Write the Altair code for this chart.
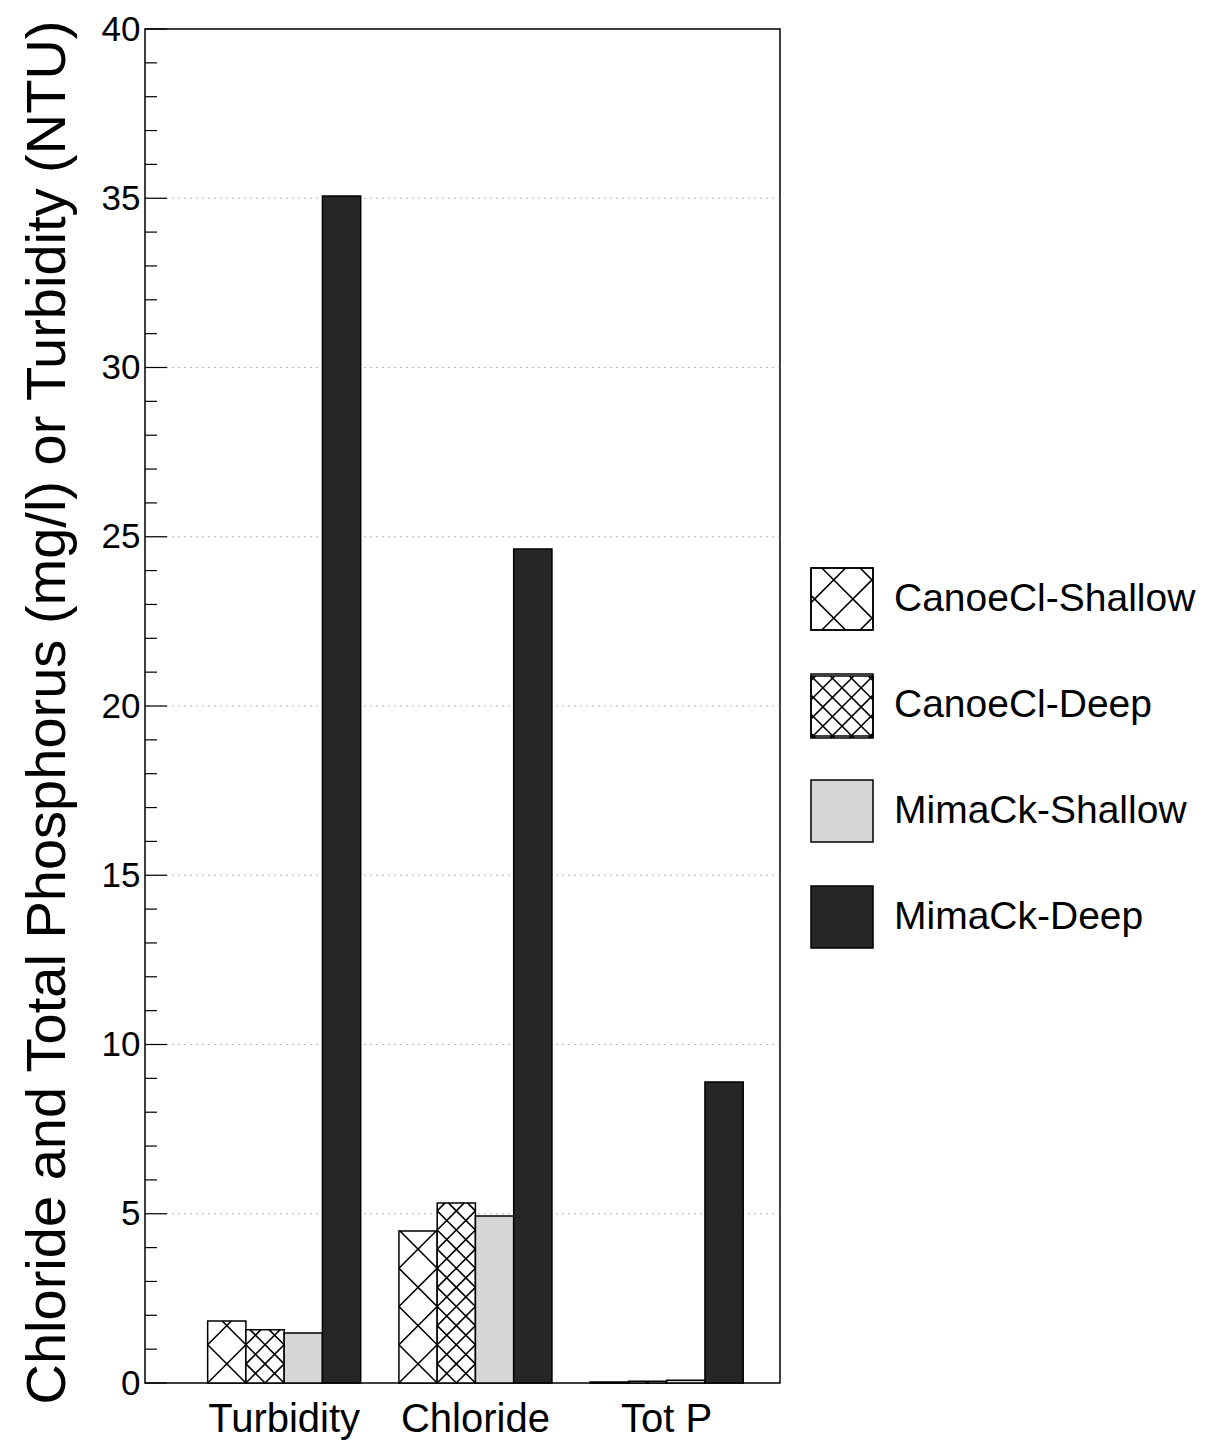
import altair as alt
import pandas as pd

params = ["Turbidity", "Chloride", "Tot P"]
series = ["CanoeCl-Shallow", "CanoeCl-Deep", "MimaCk-Shallow", "MimaCk-Deep"]
canoe_shallow = [1.83, 4.49, 0.03]
canoe_deep = [1.57, 5.32, 0.05]
mima_shallow = [1.48, 4.93, 0.08]
mima_deep = [35.07, 24.64, 8.89]
fills = ["#ffffff", "#ffffff", "#d6d6d6", "#262626"]
y_labels = [0, 5, 10, 15, 20, 25, 30, 35, 40]
grid_values = [5, 10, 15, 20, 25, 30, 35]
minor_ticks = [v for v in range(0, 41) if v % 5 != 0]
major_ticks = y_labels

FONT = "Liberation Sans"

# ---- layout (style) ----
W, H = 635, 1354
PAD_IN, PAD_OUT, ALIGN = 0.2, 0.26, 0.63
YMAX = 40
band_step = W / (len(params) - PAD_IN + 2 * PAD_OUT)
bar_w = band_step * (1 - PAD_IN) / len(series)
px_per_unit = H / YMAX

rows = []
for i, p in enumerate(params):
    for s, vals in zip(series, [canoe_shallow, canoe_deep, mima_shallow, mima_deep]):
        rows.append({"param": p, "series": s, "value": vals[i]})
df = pd.DataFrame(rows)


# ---- hatch pattern helpers (decoration only) ----
def lattice_path(spacing, offset=0.0):
    parts = ["M-1,-1H1V1H-1Z"]
    cs = []
    k = 0
    while True:
        vals = [offset + k * spacing, offset - k * spacing]
        added = False
        for c in vals:
            if -2 < c < 2 and round(c, 4) not in cs:
                cs.append(round(c, 4))
                added = True
        if not added and k > 0:
            break
        k += 1
    for c in cs:
        if c >= 0:
            parts.append(f"M{c-1:.3f},1L1,{c-1:.3f}")
            parts.append(f"M{c-1:.3f},-1L1,{1-c:.3f}")
        else:
            parts.append(f"M-1,{c+1:.3f}L{c+1:.3f},-1")
            parts.append(f"M-1,{-1-c:.3f}L{1+c:.3f},1")
    return "".join(parts)


def partial_shallow(f):
    return f"M-1,1L{-1+2*f:.3f},{1-2*f:.3f}M1,1L{1-2*f:.3f},{1-2*f:.3f}"


def partial_deep(f):
    a = 0.5 - f
    return (f"M-1,0.5L{-1+f:.3f},{a:.3f}M0,0.5L{-f:.3f},{a:.3f}"
            f"M0,0.5L{f:.3f},{a:.3f}M1,0.5L{1-f:.3f},{a:.3f}")


tile_full = {
    "CanoeCl-Shallow": "M-1,-1L1,1M-1,1L1,-1",
    "CanoeCl-Deep": "M-1,-0.5L0,0.5M-1,0.5L0,-0.5M0,-0.5L1,0.5M0,0.5L1,-0.5",
}
partial_fn = {"CanoeCl-Shallow": partial_shallow, "CanoeCl-Deep": partial_deep}
hatch_series = ["CanoeCl-Shallow", "CanoeCl-Deep"]
tile_h = {"CanoeCl-Shallow": bar_w / px_per_unit, "CanoeCl-Deep": bar_w / 2 / px_per_unit}

shape_domain = list(hatch_series)
shape_range = [tile_full[s] for s in hatch_series]
hrows = []
for r in rows:
    s = r["series"]
    if s in hatch_series:
        h = tile_h[s]
        n = int(r["value"] // h)
        for k in range(n):
            hrows.append({"param": r["param"], "series": s, "key": s, "yc": (k + 0.5) * h})
        frac = (r["value"] - n * h) / h
        if frac > 0.03:
            key = f"{r['param']}|{s}|top"
            shape_domain.append(key)
            shape_range.append(partial_fn[s](frac))
            hrows.append({"param": r["param"], "series": s, "key": key, "yc": (n + 0.5) * h})
hdf = pd.DataFrame(hrows)

legend_sym = 62
legend_shallow = lattice_path(bar_w / (legend_sym / 2), 0.35)
legend_deep = lattice_path(bar_w / 2 / (legend_sym / 2), 0.0)

yscale = alt.Scale(domain=[0, YMAX], nice=False, zero=True)
xscale = alt.Scale(paddingInner=PAD_IN, paddingOuter=PAD_OUT, align=ALIGN)
xoff_scale = alt.Scale(paddingInner=0, paddingOuter=0)

grid = alt.Chart(pd.DataFrame({"v": grid_values})).mark_rule(
    color="#888888", strokeDash=[2, 4], strokeWidth=1, opacity=0.6
).encode(y=alt.Y("v:Q", scale=yscale))

bars = alt.Chart(df).mark_bar(stroke="black", strokeWidth=1.5).encode(
    x=alt.X(
        "param:N", sort=params, scale=xscale,
        axis=alt.Axis(
            title=None, labelAngle=0, labelFontSize=40, labelPadding=16,
            ticks=False, domain=False, labelColor="black", labelFont=FONT,
        ),
    ),
    xOffset=alt.XOffset("series:N", sort=series, scale=xoff_scale),
    y=alt.Y(
        "value:Q", scale=yscale,
        axis=alt.Axis(
            values=y_labels, ticks=False, domain=False, grid=False,
            labelFontSize=35, labelPadding=5, labelColor="black", labelFont=FONT,
            title="Chloride and Total Phosphorus (mg/l) or Turbidity (NTU)",
            titleX=-98, titleY=683, titleAngle=-90, titleAlign="center",
            titleBaseline="middle", titleFontSize=56, titleFontWeight="normal",
            titleColor="black", titleFont=FONT,
        ),
    ),
    fill=alt.Fill(
        "series:N", sort=series,
        scale=alt.Scale(domain=series, range=fills),
        legend=alt.Legend(
            title=None, orient="none", legendX=665, legendY=538,
            symbolType="square", symbolSize=legend_sym ** 2, symbolStrokeColor="black",
            symbolStrokeWidth=1.5, symbolOpacity=1, labelFontSize=39,
            labelFont=FONT, labelColor="black", labelOffset=20, rowPadding=38,
            labelLimit=400,
        ),
    ),
)

hatch = alt.Chart(hdf).mark_point(
    filled=False, stroke="black", strokeWidth=1.6, opacity=1
).encode(
    x=alt.X("param:N", sort=params, scale=xscale),
    xOffset=alt.XOffset("series:N", sort=series, scale=xoff_scale),
    y=alt.Y("yc:Q", scale=yscale),
    shape=alt.Shape("key:N", scale=alt.Scale(domain=shape_domain, range=shape_range), legend=None),
    size=alt.value(bar_w ** 2),
)

legend_layer = alt.Chart(hdf).mark_point(filled=False, opacity=0).encode(
    x=alt.X("param:N", sort=params, scale=xscale),
    y=alt.Y("yc:Q", scale=yscale),
    shape=alt.Shape(
        "series:N",
        scale=alt.Scale(domain=hatch_series, range=[legend_shallow, legend_deep]),
        legend=alt.Legend(
            title=None, orient="none", legendX=665, legendY=538,
            symbolSize=legend_sym ** 2, symbolStrokeColor="black",
            symbolFillColor="transparent", symbolStrokeWidth=1.6, symbolOpacity=1,
            labelFontSize=39, labelFont=FONT, labelOpacity=0, labelOffset=20,
            rowPadding=38, labelLimit=400,
        ),
    ),
)

major = alt.Chart(pd.DataFrame({"v": major_ticks})).mark_rule(
    color="black", strokeWidth=1.2
).encode(y=alt.Y("v:Q", scale=yscale), x=alt.value(0), x2=alt.value(22))

minor = alt.Chart(pd.DataFrame({"v": minor_ticks})).mark_rule(
    color="black", strokeWidth=1.2
).encode(y=alt.Y("v:Q", scale=yscale), x=alt.value(0), x2=alt.value(12))

chart = alt.layer(grid, bars, hatch, legend_layer, major, minor).resolve_scale(
    shape="independent"
).properties(
    width=W, height=H,
    autosize=alt.AutoSizeParams(type="none"),
    padding={"left": 137, "top": 21, "right": 419, "bottom": 58},
    background="white",
).configure_view(stroke="black", strokeWidth=1.5)

chart.save("out.html", embed_options={"renderer": "svg", "actions": False})
